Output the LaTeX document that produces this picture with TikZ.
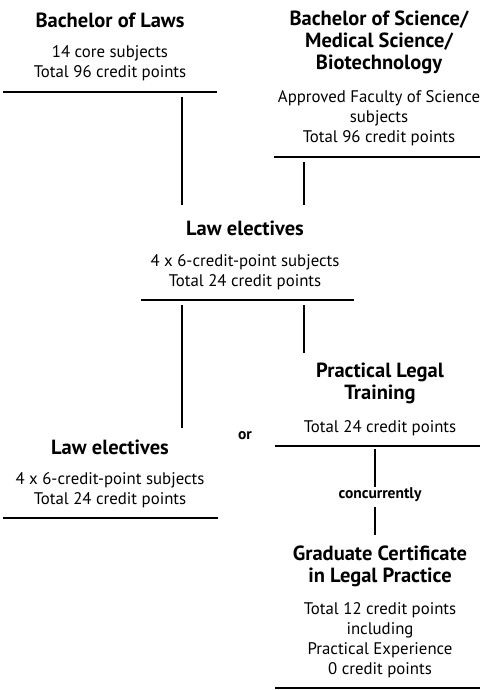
\documentclass[tikz,border=0pt]{standalone}
\usepackage{fontspec}
\setmainfont{PT Sans}
\usepackage{tikz}
\usetikzlibrary{positioning}

\begin{document}
\begin{tikzpicture}[x=1pt, y=-1pt, every node/.style={inner sep=0pt}]
\tikzset{
  head/.style={font=\bfseries\fontsize{20.5}{22}\selectfont, align=center},
  body/.style={font=\fontsize{16.8}{20}\selectfont, align=center},
  rule/.style={line width=1.1pt},
  link/.style={line width=1.3pt}
}
\useasboundingbox (0,0) rectangle (480,690);
% first year blocks
\node[head] (laws) at (110,20) {Bachelor of Laws};
\node[body] (lawsTxt) at (110,63) {14 core subjects\\Total 96 credit points};
\node[head] (sci) at (379,42) {Bachelor of Science/\\Medical Science/\\Biotechnology};
\node[body] (sciTxt) at (379,118) {Approved Faculty of Science\\subjects\\Total 96 credit points};
\coordinate (lawsL) at (3,92);   \coordinate (lawsR) at (217,92);
\coordinate (sciL) at (274,157); \coordinate (sciR) at (480,157);
\draw[rule] (lawsL) -- (lawsR);
\draw[rule] (sciL) -- (sciR);
% law electives
\node[head] (elec) at (245,228) {Law electives};
\node[body] (elecTxt) at (245,272) {4 x 6-credit-point subjects\\Total 24 credit points};
\coordinate (elecL) at (141,300); \coordinate (elecR) at (354,300);
\draw[rule] (elecL) -- (elecR);
\coordinate (a1) at (182,97);  \coordinate (a2) at (182,205);
\coordinate (b1) at (304,162); \coordinate (b2) at (304,205);
\draw[link] (a1) -- (a2);
\draw[link] (b1) -- (b2);
% options
\node[head] (plt) at (380,383) {Practical Legal\\Training};
\node[body] (pltTxt) at (380,428) {Total 24 credit points};
\coordinate (pltL) at (275,446); \coordinate (pltR) at (480,446);
\draw[rule] (pltL) -- (pltR);
\node[font=\bfseries\fontsize{15.5}{18}\selectfont] (or) at (245,436) {or};
\node[head] (elec2) at (110,447) {Law electives};
\node[body] (elec2Txt) at (110,490) {4 x 6-credit-point subjects\\Total 24 credit points};
\coordinate (elec2L) at (3,518); \coordinate (elec2R) at (218,518);
\draw[rule] (elec2L) -- (elec2R);
\coordinate (c1) at (182,305); \coordinate (c2) at (182,428);
\coordinate (d1) at (304,305); \coordinate (d2) at (304,353);
\draw[link] (c1) -- (c2);
\draw[link] (d1) -- (d2);
% graduate certificate
\node[font=\bfseries\fontsize{15.5}{18}\selectfont] (conc) at (380,495) {concurrently};
\node[head] (gcert) at (380,566) {Graduate Certificate\\in Legal Practice};
\node[body] (gcertTxt) at (380,640) {Total 12 credit points\\including\\Practical Experience\\0 credit points};
\coordinate (e1) at (375,449); \coordinate (e2) at (375,487);
\coordinate (e3) at (375,507); \coordinate (e4) at (375,535);
\draw[link] (e1) -- (e2);
\draw[link] (e3) -- (e4);
\coordinate (gcertL) at (275,688); \coordinate (gcertR) at (480,688);
\draw[rule] (gcertL) -- (gcertR);
\end{tikzpicture}
\end{document}
